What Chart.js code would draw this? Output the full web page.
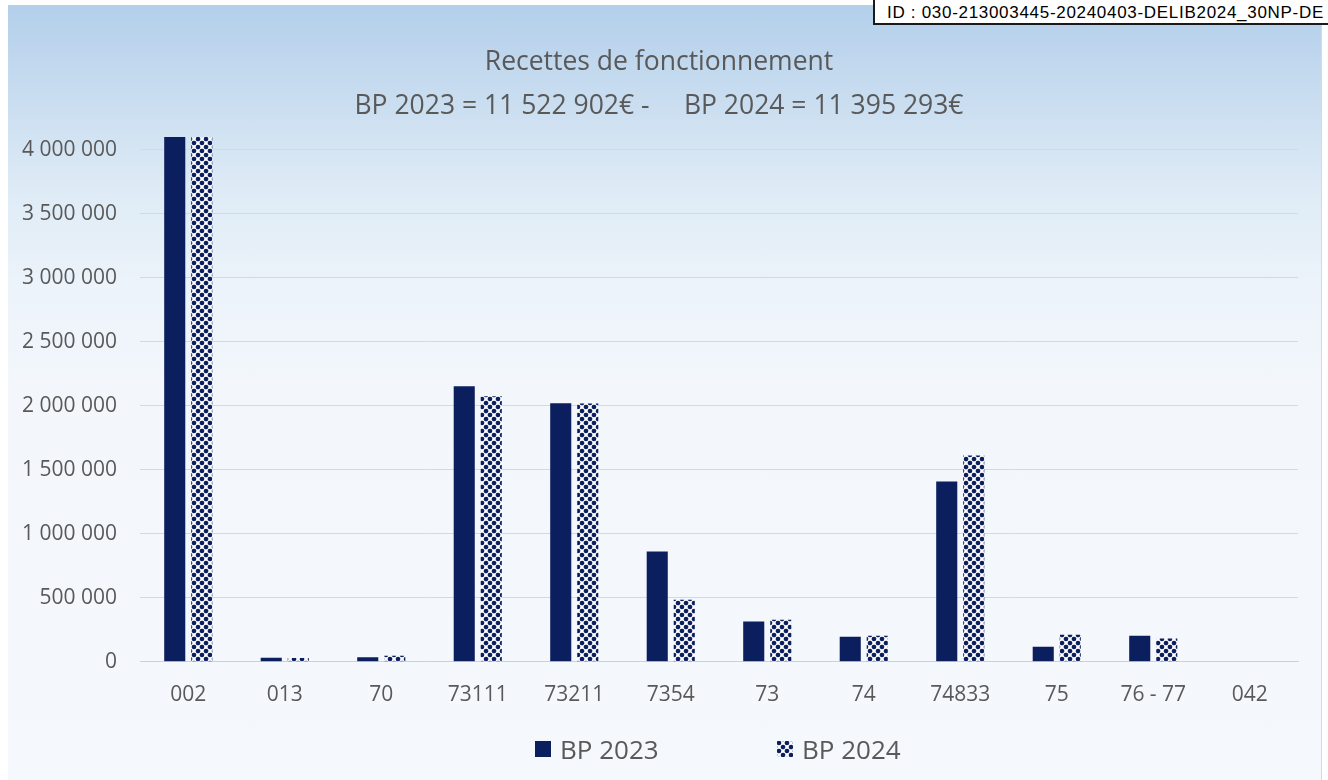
<!DOCTYPE html>
<html>
<head>
<meta charset="utf-8">
<script src="https://cdn.jsdelivr.net/npm/chart.js@4.4.1/dist/chart.umd.min.js"></script>
<style>
  html, body { margin: 0; padding: 0; background: #ffffff; width: 1328px; height: 780px; overflow: hidden; }
  #panel {
    position: absolute; left: 8px; top: 5px; width: 1313px; height: 775px;
    background: linear-gradient(to bottom, #b3cfea 0%, #c9ddf0 12%, #deebf6 24%, #ecf3fa 36%, #f3f7fc 50%, #f5f8fc 100%);
    border-right: 1px solid #d5dae2;
  }
  #chartWrap { position: absolute; left: 0; top: 0; width: 1313px; height: 775px; }
  #idbox {
    position: absolute; left: 873px; top: -2px; width: 470px; height: 27px;
    border: 2px solid #1a1a1a; background: #ffffff; box-sizing: border-box;
    font-family: "Liberation Sans", Arial, sans-serif; font-size: 17px; letter-spacing: 0.7px; color: #000;
    line-height: 25px; padding-left: 12px; white-space: nowrap; overflow: hidden;
  }
  .leg { position: absolute; top: 733px; height: 32px; display: flex; align-items: center;
         font-family: 'Open Sans', 'Noto Sans', sans-serif; font-size: 26px; color: #595959; white-space: nowrap; }
  .sw { width: 16px; height: 16px; margin-right: 9px; display: block; }
</style>
</head>
<body>
<div id="panel"><div id="chartWrap"><canvas id="c" width="1313" height="775"></canvas></div></div>
<div id="leg1" class="leg" style="left:535px"><canvas class="sw" id="sw1" width="16" height="16"></canvas><span id="lt1"></span></div>
<div id="leg2" class="leg" style="left:777px"><canvas class="sw" id="sw2" width="16" height="16"></canvas><span id="lt2"></span></div>
<div id="idbox">ID : 030-213003445-20240403-DELIB2024_30NP-DE</div>
<script>
const categories = ["002", "013", "70", "73111", "73211", "7354", "73", "74", "74833", "75", "76 - 77", "042"];
const bp2023 = [4163000, 32000, 35000, 2152000, 2020000, 861000, 315000, 196000, 1409000, 117000, 204000, 0];
const bp2024 = [4195000, 30000, 48000, 2074000, 2018000, 485000, 329000, 203000, 1612000, 211000, 182000, 0];
const seriesNames = ["BP 2023", "BP 2024"];
const titleLines = ["Recettes de fonctionnement", "BP 2023 = 11 522 902€ -     BP 2024 = 11 395 293€"];
const yTicks = [0, 500000, 1000000, 1500000, 2000000, 2500000, 3000000, 3500000, 4000000];
const yMax = 4100000;

const navy = "#0b1f5e";

function makePatternTile() {
  const p = document.createElement("canvas");
  p.width = 8; p.height = 8;
  const g = p.getContext("2d");
  g.fillStyle = "#ffffff";
  g.fillRect(0, 0, 8, 8);
  g.fillStyle = navy;
  const pts = [[2, 2], [6, 6], [-2, 6], [10, 2], [6, -2], [2, 10]];
  for (const [x, y] of pts) {
    g.beginPath(); g.arc(x, y, 2.3, 0, Math.PI * 2); g.fill();
  }
  return p;
}

function fmt(v) {
  return String(v).replace(/\B(?=(\d{3})+(?!\d))/g, " ");
}

const tile = makePatternTile();
const pattern = document.getElementById("c").getContext("2d").createPattern(tile, "repeat");
const textColor = "#595959";
const fontFam = "'Open Sans', 'Noto Sans', sans-serif";

// HTML legend
document.getElementById("lt1").textContent = seriesNames[0];
document.getElementById("lt2").textContent = seriesNames[1];
(function () {
  const g1 = document.getElementById("sw1").getContext("2d");
  g1.fillStyle = navy; g1.fillRect(0, 0, 16, 16);
  const g2 = document.getElementById("sw2").getContext("2d");
  g2.fillStyle = g2.createPattern(tile, "repeat"); g2.fillRect(0, 0, 16, 16);
})();

new Chart(document.getElementById("c"), {
  type: "bar",
  data: {
    labels: categories,
    datasets: [
      { label: seriesNames[0], data: bp2023, backgroundColor: navy, borderWidth: 0,
        categoryPercentage: 0.56, barPercentage: 0.78 },
      { label: seriesNames[1], data: bp2024, backgroundColor: pattern, borderWidth: 0,
        categoryPercentage: 0.56, barPercentage: 0.78 }
    ]
  },
  options: {
    responsive: false,
    animation: false,
    layout: { padding: { left: 12, right: 23, top: 0, bottom: 59 } },
    plugins: {
      title: {
        display: true,
        text: titleLines,
        color: textColor,
        font: { family: fontFam, size: 26.5, weight: "normal", lineHeight: 1.66 },
        padding: { top: 35, bottom: 9 }
      },
      legend: { display: false },
      tooltip: { enabled: false }
    },
    scales: {
      x: {
        grid: { display: false },
        border: { display: true, color: "#d0d0d0", width: 1 },
        ticks: { color: textColor, font: { family: fontFam, size: 21 }, padding: 13, maxRotation: 0 }
      },
      y: {
        min: 0, max: yMax,
        grid: { color: "#d5d8dc", drawTicks: false },
        border: { display: false },
        afterFit: (axis) => { axis.width = 120; },
        afterBuildTicks: (axis) => { axis.ticks = yTicks.map(v => ({ value: v })); },
        ticks: { color: textColor, font: { family: fontFam, size: 21 }, padding: 23,
                 callback: (v) => fmt(v) }
      }
    }
  }
});
</script>
</body>
</html>
